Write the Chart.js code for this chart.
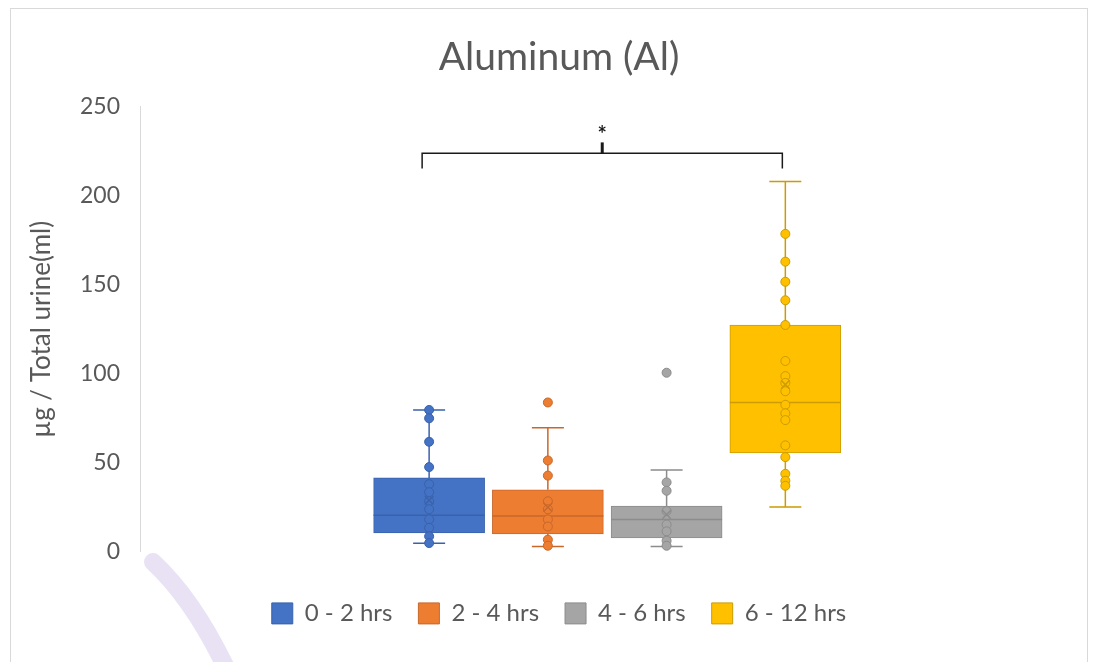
<!DOCTYPE html>
<html>
<head>
<meta charset="utf-8">
<script src="https://cdn.jsdelivr.net/npm/chart.js@4.4.1/dist/chart.umd.min.js"></script>
<style>
  html, body { margin: 0; padding: 0; background: #ffffff; }
  #wrap { width: 1098px; height: 662px; position: relative; }
</style>
</head>
<body>
<div id="wrap"><canvas id="chart"></canvas></div>
<script>
// Collection periods (one box per period)
const groups = ['0 - 2 hrs', '2 - 4 hrs', '4 - 6 hrs', '6 - 12 hrs'];
const groupPos = [1, 2, 3, 4];

// Five-number summaries and means, µg / total urine (ml)
const whiskerLow  = [4.8, 3.0, 3.0, 25.2];
const q1          = [10.6, 10.1, 7.8, 55.5];
const median      = [20.5, 20.1, 18.2, 83.9];
const q3          = [41.5, 34.8, 25.7, 127.4];
const whiskerHigh = [79.7, 69.7, 46.0, 208.1];
const means       = [29.0, 25.0, 21.0, 94.0];

// Individual observations per period
const obs0to2  = [79.7, 75.0, 61.8, 47.6, 38.0, 33.5, 28.4, 23.9, 18.2, 13.5, 8.7, 4.9];
const obs2to4  = [83.9, 51.3, 42.8, 28.4, 23.9, 18.2, 14.2, 6.8, 3.4];
const obs4to6  = [100.6, 39.0, 34.3, 22.9, 15.3, 11.5, 6.2, 3.4];
const obs6to12 = [178.6, 163.0, 151.7, 141.3, 127.4, 107.2, 98.7, 94.9, 90.2, 82.6, 77.8, 74.0,
                  59.8, 53.2, 43.8, 39.9, 37.1];
const observations = [obs0to2, obs2to4, obs4to6, obs6to12];

// Axis ticks
const yTicks = [0, 50, 100, 150, 200, 250];

// Significance bracket between the first and last period
const sigFrom = 1, sigTo = 4, sigLevel = 223.9, sigDrop = 215.3, sigPeak = 230, sigLabelAt = 237;
const sigLabel = '*';

const fillColors = ['#4472C4', '#ED7D31', '#A5A5A5', '#FFC000'];
const lineColors = ['#3A62AC', '#C9672A', '#8C8C8C', '#CC9C00'];
const textColor = '#595959';
const fontFamily = 'Lato, "Open Sans", sans-serif';

const datasets = [];
groups.forEach((g, i) => {
  datasets.push({
    type: 'bar',
    label: g,
    data: [{ x: groupPos[i], y: [q1[i], q3[i]] }],
    backgroundColor: fillColors[i],
    borderColor: lineColors[i],
    borderWidth: 1,
    borderSkipped: false,
    barThickness: 111,
    grouped: false,
    order: 10
  });
});
groups.forEach((g, i) => {
  datasets.push({
    type: 'scatter',
    label: g + ' points',
    data: observations[i].map(v => ({ x: groupPos[i], y: v })),
    backgroundColor: fillColors[i],
    borderColor: lineColors[i],
    borderWidth: 1,
    pointRadius: 4.5,
    order: 2
  });
});
groups.forEach((g, i) => {
  datasets.push({
    type: 'scatter',
    label: g + ' mean',
    data: [{ x: groupPos[i], y: means[i] }],
    pointStyle: 'crossRot',
    pointRadius: 6,
    borderColor: lineColors[i],
    borderWidth: 1.5,
    order: 1
  });
});

// Whiskers, caps and median line, drawn right after each box
const boxExtras = {
  id: 'boxExtras',
  afterDatasetDraw(chart, args) {
    const i = args.index;
    if (i >= groups.length) return;
    const xs = chart.scales.x, ys = chart.scales.y, ctx = chart.ctx;
    const cx = xs.getPixelForValue(groupPos[i]);
    const half = args.meta.data[0].width / 2;
    const capHalf = 16;
    const yHi = ys.getPixelForValue(whiskerHigh[i]);
    const yLo = ys.getPixelForValue(whiskerLow[i]);
    const yQ1 = ys.getPixelForValue(q1[i]);
    const yQ3 = ys.getPixelForValue(q3[i]);
    const yMed = ys.getPixelForValue(median[i]);
    ctx.save();
    ctx.strokeStyle = lineColors[i];
    ctx.lineWidth = 1.5;
    ctx.beginPath();
    ctx.moveTo(cx, yQ3); ctx.lineTo(cx, yHi);
    ctx.moveTo(cx - capHalf, yHi); ctx.lineTo(cx + capHalf, yHi);
    ctx.moveTo(cx, yQ1); ctx.lineTo(cx, yLo);
    ctx.moveTo(cx - capHalf, yLo); ctx.lineTo(cx + capHalf, yLo);
    ctx.moveTo(cx - half, yMed); ctx.lineTo(cx + half, yMed);
    ctx.stroke();
    ctx.restore();
  }
};

// Significance bracket with its star
const sigBracket = {
  id: 'sigBracket',
  afterDatasetsDraw(chart) {
    const xs = chart.scales.x, ys = chart.scales.y, ctx = chart.ctx;
    const x1 = xs.getPixelForValue(sigFrom) - 7;
    const x2 = xs.getPixelForValue(sigTo) - 3;
    const xm = (x1 + x2) / 2;
    const yb = ys.getPixelForValue(sigLevel);
    const yd = ys.getPixelForValue(sigDrop);
    const yp = ys.getPixelForValue(sigPeak);
    ctx.save();
    ctx.strokeStyle = '#1a1a1a';
    ctx.lineWidth = 1.5;
    ctx.beginPath();
    ctx.moveTo(x1, yd); ctx.lineTo(x1, yb); ctx.lineTo(x2, yb); ctx.lineTo(x2, yd);
    ctx.stroke();
    ctx.lineWidth = 3;
    ctx.beginPath();
    ctx.moveTo(xm, yb); ctx.lineTo(xm, yp);
    ctx.stroke();
    ctx.fillStyle = '#1a1a1a';
    ctx.font = 'bold 22px ' + fontFamily;
    ctx.textAlign = 'center';
    ctx.textBaseline = 'middle';
    ctx.fillText(sigLabel, xm, ys.getPixelForValue(sigLabelAt) + 5);
    ctx.restore();
  }
};

// Frame around the chart and the faint lavender stroke at lower left
const decor = {
  id: 'decor',
  beforeDraw(chart) {
    const ctx = chart.ctx;
    ctx.save();
    ctx.fillStyle = '#ffffff';
    ctx.fillRect(0, 0, chart.width, chart.height);
    ctx.strokeStyle = 'rgba(204, 190, 230, 0.45)';
    ctx.lineWidth = 18;
    ctx.lineCap = 'round';
    ctx.beginPath();
    ctx.moveTo(153, 562);
    ctx.quadraticCurveTo(194, 600, 228, 672);
    ctx.stroke();
    ctx.restore();
  },
  afterDraw(chart) {
    const ctx = chart.ctx;
    ctx.save();
    ctx.strokeStyle = '#d9d9d9';
    ctx.lineWidth = 1;
    ctx.strokeRect(10.5, 8.5, 1077, 700);
    ctx.restore();
  }
};

new Chart(document.getElementById('chart'), {
  data: { datasets },
  options: {
    responsive: true,
    maintainAspectRatio: false,
    animation: false,
    layout: { padding: { left: 20, right: 0, top: 0, bottom: 26.6 } },
    plugins: {
      tooltip: { enabled: false },
      title: {
        display: true,
        text: 'Aluminum (Al)',
        color: textColor,
        font: { family: fontFamily, size: 39, weight: 'normal' },
        padding: { top: 34, bottom: 26 }
      },
      legend: {
        position: 'bottom',
        labels: {
          filter: item => item.datasetIndex < groups.length,
          color: textColor,
          font: { family: fontFamily, size: 24 },
          boxWidth: 21,
          boxHeight: 21,
          padding: 26
        }
      }
    },
    scales: {
      x: {
        type: 'linear',
        bounds: 'data',
        offset: false,
        min: -1.435,
        max: 6.57,
        grid: { display: false, drawTicks: false },
        border: { display: false },
        ticks: { display: false },
        afterFit: s => { s.height = 23.6; }
      },
      y: {
        min: 0,
        max: 250,
        afterBuildTicks: s => { s.ticks = yTicks.map(v => ({ value: v })); },
        grid: { display: false, drawTicks: false },
        border: { display: true, color: '#d9d9d9', width: 1 },
        ticks: { color: textColor, font: { family: fontFamily, size: 23 }, padding: 20 },
        title: {
          display: true,
          text: 'µg / Total urine(ml)',
          color: textColor,
          font: { family: fontFamily, size: 26 },
          padding: { top: 6.4, bottom: 0 }
        },
        afterFit: s => { s.width = 120; }
      }
    }
  },
  plugins: [decor, boxExtras, sigBracket]
});
</script>
</body>
</html>
